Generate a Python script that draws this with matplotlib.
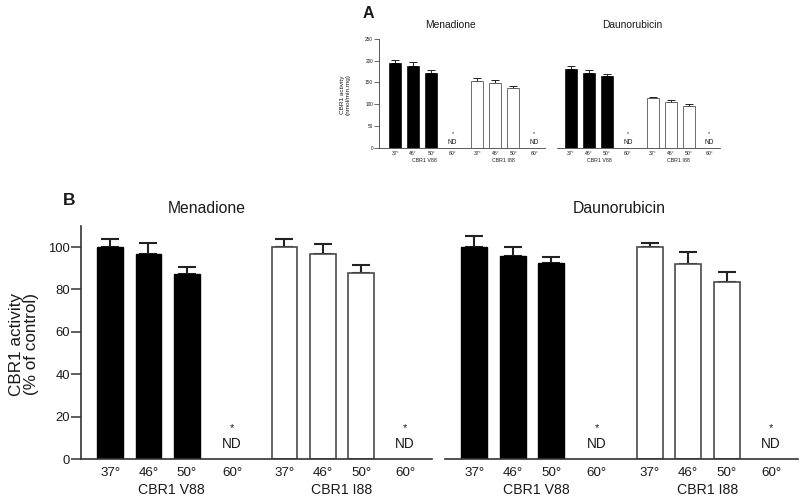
import matplotlib
matplotlib.use("Agg")
import matplotlib.pyplot as plt

plt.rcParams['font.family'] = ['Liberation Sans', 'DejaVu Sans']

temps = ['37', '46', '50', '60']
groups = ['CBR1 V88', 'CBR1 I88']
drugs = ['Menadione', 'Daunorubicin']

# Panel B (% of control)
b_men_v88 = [100.0, 96.8, 87.2]
b_men_v88_err = [3.7, 4.9, 3.4]
b_men_i88 = [100.0, 96.6, 87.9]
b_men_i88_err = [3.9, 4.7, 3.6]
b_dau_v88 = [100.0, 95.9, 92.6]
b_dau_v88_err = [5.2, 4.1, 2.7]
b_dau_i88 = [100.0, 91.8, 83.6]
b_dau_i88_err = [1.9, 5.7, 4.4]

# Panel A (nmol/min.mg)
a_men_v88 = [195, 189, 171]
a_men_v88_err = [7.5, 9, 7]
a_men_i88 = [154, 149, 136.5]
a_men_i88_err = [7, 6, 4.5]
a_dau_v88 = [180, 172, 165.5]
a_dau_v88_err = [7, 6, 4.5]
a_dau_i88 = [113.5, 104.5, 95]
a_dau_i88_err = [2.5, 5, 4.5]

W, H = 800, 501
fig = plt.figure(figsize=(W / 100, H / 100), dpi=100)
TXT = '#1a1a1a'


def px_axes(x0, x1, ytop, ybot):
    return fig.add_axes([x0 / W, (H - ybot) / H, (x1 - x0) / W, (ybot - ytop) / H])


pos_v = [0, 1, 2]
pos_i = [4.55, 5.55, 6.55]
nd_pos = [3.18, 7.7]


def draw(ax, v88, v88e, i88, i88e, ylim, ticks, show_y, s):
    bw = 0.67
    ax.bar(pos_v, v88, width=bw, color='black', edgecolor='black', linewidth=1.0 * s, zorder=2)
    ax.bar(pos_i, i88, width=bw, color='white', edgecolor='#4a4a4a', linewidth=1.2 * s, zorder=2)
    ax.errorbar(pos_v, v88, yerr=[[0] * 3, v88e], fmt='none', ecolor='#222222',
                elinewidth=1.5 * s, capsize=6.5 * s, capthick=1.5 * s, zorder=1)
    ax.errorbar(pos_i, i88, yerr=[[0] * 3, i88e], fmt='none', ecolor='#222222',
                elinewidth=1.5 * s, capsize=6.5 * s, capthick=1.5 * s, zorder=1)
    ax.set_ylim(*ylim)
    ax.set_xlim(-0.76, 8.4)
    for sp in ['top', 'right']:
        ax.spines[sp].set_visible(False)
    ax.spines['bottom'].set_color('#333333')
    ax.spines['bottom'].set_linewidth(1.2 * s)
    ax.spines['left'].set_color('#333333')
    ax.spines['left'].set_linewidth(1.2 * s)
    if show_y:
        ax.set_yticks(ticks)
        ax.tick_params(axis='y', length=7 * s, width=1.1 * s, colors='#333333',
                       labelcolor=TXT, labelsize=9.4 if s == 1 else 3.4, pad=1)
    else:
        ax.spines['left'].set_visible(False)
        ax.set_yticks([])
    xt = pos_v + [nd_pos[0]] + pos_i + [nd_pos[1]]
    ax.set_xticks(xt)
    ax.set_xticklabels([t + '\u00b0' for t in temps] * 2)
    ax.tick_params(axis='x', length=0, labelcolor=TXT,
                   labelsize=9.6 if s == 1 else 3.7, pad=6 if s == 1 else 2.5)
    return ax


# ---------- Panel B ----------
yb_top, yb_bot = 459 - 110 * 2.12, 459
axB1 = px_axes(81, 432, yb_top, yb_bot)
axB2 = px_axes(445, 798, yb_top, yb_bot)
draw(axB1, b_men_v88, b_men_v88_err, b_men_i88, b_men_i88_err, (0, 110), [0, 20, 40, 60, 80, 100], True, 1)
draw(axB2, b_dau_v88, b_dau_v88_err, b_dau_i88, b_dau_i88_err, (0, 110), [], False, 1)
for ax in (axB1, axB2):
    for p in nd_pos:
        ax.text(p, 7, 'ND', ha='center', va='center', fontsize=9.8, color=TXT)
        ax.text(p, 14.5, '*', ha='center', va='center', fontsize=8, color=TXT)
    ax.text(1.6, -0.135, groups[0], transform=ax.get_xaxis_transform(), ha='center', va='center',
            fontsize=10.2, color=TXT)
    ax.text(6.05, -0.135, groups[1], transform=ax.get_xaxis_transform(), ha='center', va='center',
            fontsize=10.2, color=TXT)

fig.text(207 / W, 1 - 209 / H, drugs[0], ha='center', va='center', fontsize=11.3, color=TXT)
fig.text(619 / W, 1 - 209 / H, drugs[1], ha='center', va='center', fontsize=11.3, color=TXT)
fig.text(69 / W, 1 - 201 / H, 'B', ha='center', va='center', fontsize=12.5, fontweight='bold', color=TXT)
fig.text(24 / W, 1 - 344 / H, 'CBR1 activity\n(% of control)', rotation=90, ha='center', va='center',
         multialignment='center', fontsize=12.3, color=TXT, linespacing=1.0)

# ---------- Panel A ----------
ya_top, ya_bot = 39, 147.7
sA = 18 / 38.5
axA1 = px_axes(379, 545, ya_top, ya_bot)
axA2 = px_axes(557, 720, ya_top, ya_bot)
draw(axA1, a_men_v88, a_men_v88_err, a_men_i88, a_men_i88_err, (0, 250), [0, 50, 100, 150, 200, 250], True, sA)
draw(axA2, a_dau_v88, a_dau_v88_err, a_dau_i88, a_dau_i88_err, (0, 250), [], False, sA)
axA1.set_xlim(-0.9, 8.3)
axA2.set_xlim(-0.77, 8.3)
for ax in (axA1, axA2):
    for p in nd_pos:
        ax.text(p, 11, 'ND', ha='center', va='center', fontsize=4.8, color=TXT)
        ax.text(p, 33, '*', ha='center', va='center', fontsize=4, color=TXT)
    ax.text(1.6, -0.12, groups[0], transform=ax.get_xaxis_transform(), ha='center', va='center',
            fontsize=3.8, color=TXT)
    ax.text(6.0, -0.12, groups[1], transform=ax.get_xaxis_transform(), ha='center', va='center',
            fontsize=3.8, color=TXT)

fig.text(450 / W, 1 - 25 / H, drugs[0], ha='center', va='center', fontsize=7.4, color=TXT)
fig.text(632 / W, 1 - 25 / H, drugs[1], ha='center', va='center', fontsize=7.4, color=TXT)
fig.text(368 / W, 1 - 14 / H, 'A', ha='center', va='center', fontsize=11.5, fontweight='bold', color=TXT)
fig.text(345 / W, 1 - 95 / H, 'CBR1 activity\n(nmol/min.mg)', rotation=90, ha='center', va='center',
         multialignment='center', fontsize=4.6, color=TXT, linespacing=1.1)

fig.savefig('out.png', dpi=100, facecolor='white')
